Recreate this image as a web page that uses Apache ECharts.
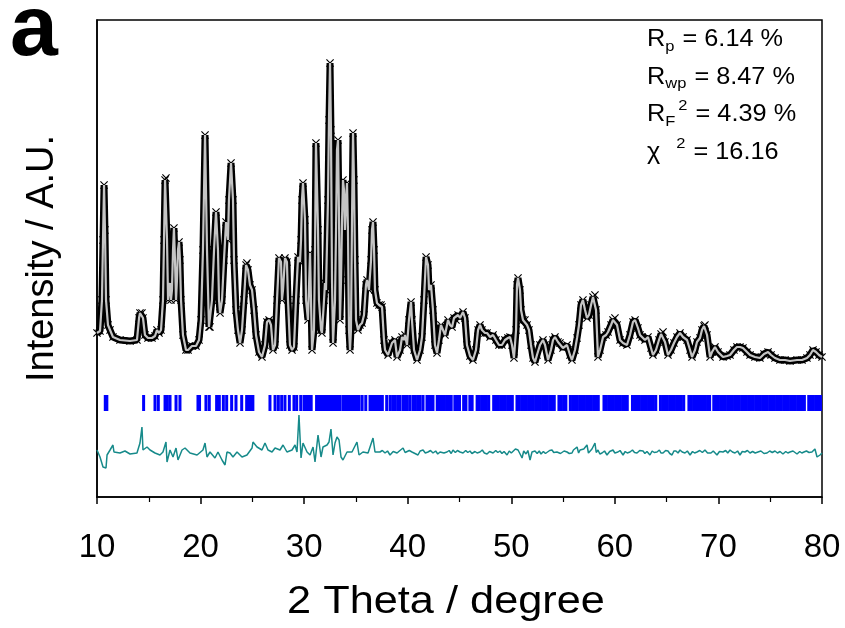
<!DOCTYPE html>
<html>
<head>
<meta charset="utf-8">
<script src="https://cdn.jsdelivr.net/npm/echarts@6/dist/echarts.min.js"></script>
<style>
  html, body { margin: 0; padding: 0; background: #fff; }
  #chart { width: 845px; height: 628px; }
</style>
</head>
<body>
<div id="chart"></div>
<script>
// Rietveld refinement plot: observed (crosses), calculated (grey line),
// Bragg reflection markers (blue) and difference curve (teal).

// [2θ (deg), intensity (counts)] – observed / calculated profile
const profile = [
  [10.00,880],[10.29,920],[10.48,1540],[10.58,2740],[10.68,3840],[10.77,2940],[10.87,1540],[11.06,1040],
  [11.26,940],[11.54,800],[12.22,740],[13.19,720],[13.86,740],[14.06,1180],[14.15,1280],[14.34,1280],
  [14.44,1180],[14.63,840],[14.92,780],[15.31,780],[15.60,820],[15.79,940],[15.99,880],[16.18,940],
  [16.37,1540],[16.47,2740],[16.57,3940],[16.66,3980],[16.76,2740],[16.86,1540],[16.95,1740],[17.05,1880],
  [17.14,1540],[17.24,1740],[17.34,2540],[17.43,2980],[17.53,2340],[17.63,1540],[17.72,1940],[17.82,2540],
  [17.92,2700],[18.01,2340],[18.11,1540],[18.30,840],[18.59,540],[18.79,540],[19.17,620],[19.56,620],
  [19.85,740],[20.04,1140],[20.23,2540],[20.43,4840],[20.62,2540],[20.81,1000],[20.91,1000],[21.10,1540],
  [21.30,2540],[21.49,3300],[21.68,2540],[21.78,1540],[21.88,1280],[22.07,1540],[22.26,2340],[22.46,3100],
  [22.65,2740],[22.74,3540],[22.94,4280],[23.13,3540],[23.23,2340],[23.42,1340],[23.61,940],[23.81,680],
  [24.00,940],[24.19,1540],[24.39,2240],[24.48,2280],[24.58,2140],[24.77,1840],[24.97,1740],[25.16,1340],
  [25.35,840],[25.64,500],[25.93,400],[26.22,640],[26.41,1100],[26.61,1140],[26.80,1040],[26.99,540],
  [27.19,640],[27.38,1540],[27.57,2380],[27.77,2300],[27.86,1540],[27.96,1740],[28.15,2380],[28.34,2300],
  [28.44,1540],[28.63,640],[28.83,540],[29.02,600],[29.21,1540],[29.41,2400],[29.60,2300],[29.70,2740],
  [29.79,3540],[29.89,3880],[30.08,3140],[30.18,1540],[30.37,1140],[30.57,2480],[30.66,1540],[30.76,540],
  [30.95,940],[31.05,2540],[31.14,4680],[31.34,2940],[31.43,1540],[31.63,940],[31.72,880],[31.92,1540],
  [32.01,1880],[32.11,1740],[32.30,3540],[32.40,5140],[32.50,6280],[32.59,4940],[32.69,1940],[32.79,680],
  [32.98,1540],[33.08,2940],[33.17,4540],[33.27,4740],[33.37,3140],[33.46,1140],[33.56,1940],[33.66,3140],
  [33.75,3940],[33.85,3740],[33.94,2940],[34.04,3540],[34.14,3880],[34.23,2940],[34.33,940],[34.43,540],
  [34.52,940],[34.62,3140],[34.72,4880],[34.81,3940],[34.91,2340],[35.01,1140],[35.20,940],[35.39,1040],
  [35.59,1080],[35.78,1240],[35.97,1840],[36.07,1940],[36.26,1740],[36.46,2340],[36.55,2940],[36.65,3100],
  [36.75,2540],[36.84,1740],[37.03,1480],[37.23,1440],[37.42,1440],[37.52,1400],[37.71,740],[37.81,540],
  [38.10,440],[38.48,680],[38.77,740],[38.97,400],[39.26,540],[39.45,800],[39.64,740],[39.74,840],
  [39.93,640],[40.12,1140],[40.32,1500],[40.41,1140],[40.61,540],[40.90,340],[41.19,540],[41.38,800],
  [41.57,1540],[41.77,2400],[41.96,2240],[42.06,1740],[42.25,1840],[42.44,1340],[42.63,640],[42.83,480],
  [43.02,740],[43.21,1040],[43.41,940],[43.60,840],[43.89,1140],[44.08,1040],[44.28,1000],[44.47,1180],
  [44.66,1140],[44.86,1240],[45.05,1180],[45.34,1300],[45.53,1180],[45.72,640],[46.01,420],[46.30,340],
  [46.59,540],[46.79,940],[46.98,1040],[47.17,940],[47.46,880],[47.66,880],[47.95,800],[48.24,840],
  [48.52,740],[48.81,640],[49.10,640],[49.39,740],[49.68,780],[49.88,800],[50.07,640],[50.26,380],
  [50.46,940],[50.55,1840],[50.65,1980],[50.84,1740],[50.94,1340],[51.13,1140],[51.32,1140],[51.52,1040],
  [51.71,940],[51.90,640],[52.10,380],[52.29,300],[52.48,440],[52.77,640],[53.06,740],[53.26,640],
  [53.55,340],[53.83,540],[54.03,740],[54.22,800],[54.51,700],[54.70,680],[54.99,580],[55.38,640],
  [55.67,440],[55.86,340],[56.15,540],[56.35,780],[56.54,1040],[56.73,1440],[56.92,1540],[57.12,1340],
  [57.31,1180],[57.50,1240],[57.70,1440],[57.89,1600],[58.08,1640],[58.18,1340],[58.37,400],[58.57,540],
  [58.86,800],[59.15,840],[59.34,900],[59.63,1040],[59.82,1140],[60.01,1180],[60.21,1040],[60.50,740],
  [60.79,680],[61.17,640],[61.46,840],[61.75,1100],[61.95,1140],[62.23,980],[62.43,840],[62.62,800],
  [62.91,740],[63.20,800],[63.49,580],[63.68,440],[63.97,540],[64.26,740],[64.46,860],[64.65,900],
  [64.84,700],[65.13,440],[65.42,540],[65.71,680],[66.00,800],[66.29,880],[66.58,800],[66.97,740],
  [67.26,540],[67.45,400],[67.74,540],[67.93,700],[68.22,780],[68.41,940],[68.61,1020],[68.70,1040],
  [68.90,840],[69.19,400],[69.38,500],[69.67,600],[69.96,500],[70.44,400],[70.83,420],[71.12,440],
  [71.50,540],[71.79,600],[72.08,600],[72.37,580],[72.76,500],[73.05,440],[73.53,400],[74.01,380],
  [74.40,460],[74.79,500],[75.08,440],[75.46,380],[75.94,340],[76.43,340],[76.91,320],[77.59,340],
  [78.07,340],[78.55,380],[78.84,440],[79.13,540],[79.42,500],[79.71,440],[80.00,400]
];

// Bragg reflection positions, 2θ (deg)
const reflections = [
  10.80,10.95,14.50,15.60,15.92,16.57,16.79,17.05,17.63,18.01,19.75,19.90,20.52,20.84,21.55,21.81,
  22.20,22.52,23.00,23.42,23.97,24.45,24.60,24.75,24.90,25.05,
  26.70,27.19,27.51,27.83,28.15,28.57,29.02,29.28,29.67,29.99,30.15,30.32,30.50,30.68,
  31.20,31.36,31.52,31.68,31.85,32.02,32.20,32.38,32.55,32.72,32.90,33.08,33.30,33.46,
  33.75,33.92,34.10,34.28,34.45,34.62,34.80,34.97,35.10,35.30,35.60,35.95,
  36.36,36.55,36.75,36.95,37.15,37.35,37.55,37.97,38.30,38.55,38.80,39.05,39.25,
  39.55,39.75,39.95,40.20,40.50,40.70,40.95,41.20,41.48,41.86,42.05,42.25,42.44,
  42.85,43.07,43.30,43.52,43.75,43.97,44.20,44.55,44.77,45.00,45.40,45.62,46.00,46.22,
  46.70,46.92,47.15,47.37,47.60,47.82,48.30,48.52,48.75,48.97,49.20,49.42,49.65,49.87,50.10,
  50.55,50.77,51.00,51.22,51.45,51.67,51.90,52.12,52.35,52.57,52.80,53.02,53.25,53.47,53.70,53.92,54.15,
  54.60,54.82,55.05,55.27,55.70,55.92,56.15,56.37,56.60,56.82,57.05,57.27,57.50,57.72,57.95,58.17,58.40,
  58.95,59.17,59.40,59.62,59.85,60.07,60.30,60.52,60.75,60.97,61.20,
  61.70,61.92,62.15,62.37,62.60,62.82,63.05,63.27,63.50,63.72,63.95,
  64.40,64.62,64.85,65.07,65.30,65.52,65.75,65.97,66.20,66.42,66.65,
  67.15,67.37,67.60,67.82,68.05,68.27,68.50,68.72,68.95,69.15,
  69.55,69.77,70.00,70.22,70.45,70.67,70.90,71.12,71.35,71.57,71.80,72.02,72.25,72.47,72.70,72.92,
  73.15,73.37,73.60,73.82,74.05,74.27,74.50,74.72,74.95,75.17,75.40,75.62,75.85,76.07,76.30,76.52,
  76.75,76.97,77.20,77.42,77.65,77.87,78.10,78.30,78.72,78.95,79.17,79.40,79.62,79.85
];

// [2θ (deg), observed − calculated (counts)]
const difference = [
  [10.00,40],[10.29,-100],[10.58,-300],[10.87,-320],[10.97,-60],[11.26,40],[11.54,140],[11.64,0],
  [12.22,-20],[12.70,20],[13.19,-40],[13.86,-20],[14.15,180],[14.34,500],[14.44,40],[14.83,100],
  [15.12,40],[15.60,-20],[16.08,-60],[16.37,0],[16.66,200],[16.76,-200],[17.05,40],[17.34,-100],
  [17.63,80],[17.82,-160],[18.21,40],[18.50,80],[18.98,-20],[19.66,-60],[20.23,40],[20.43,180],
  [20.62,-100],[20.91,0],[21.39,-120],[21.68,0],[22.07,-160],[22.36,-260],[22.55,0],[22.84,-20],
  [23.13,-100],[23.52,0],[24.00,-100],[24.48,-60],[24.97,80],[25.06,200],[25.45,100],[25.93,40],
  [26.22,180],[26.51,40],[26.90,0],[27.19,80],[27.67,40],[27.96,140],[28.34,0],[28.83,40],
  [29.12,140],[29.31,0],[29.50,740],[29.70,-120],[29.89,180],[30.28,0],[30.57,-60],[30.86,100],
  [31.05,-200],[31.34,340],[31.63,-100],[31.82,100],[32.21,140],[32.40,200],[32.59,460],[32.79,-60],
  [32.98,180],[33.17,300],[33.37,240],[33.56,-100],[33.75,-160],[34.14,0],[34.62,0],[35.10,200],
  [35.30,-60],[35.68,0],[36.17,-20],[36.65,280],[36.84,0],[37.32,0],[37.55,30],[37.81,-20],
  [38.05,20],[38.29,-60],[38.60,10],[38.97,-20],[39.25,30],[39.55,80],[39.75,-10],[39.93,-20],
  [40.15,30],[40.41,0],[40.70,-30],[40.99,-60],[41.20,20],[41.48,40],[41.70,-20],[41.96,0],
  [42.20,30],[42.44,-20],[42.70,20],[42.90,-40],[43.12,0],[43.30,40],[43.50,-20],[43.79,0],
  [44.00,30],[44.20,-30],[44.37,40],[44.60,-10],[44.80,30],[45.05,0],[45.20,-40],[45.34,-20],
  [45.60,30],[45.80,-10],[46.01,20],[46.20,-30],[46.50,10],[46.70,-20],[46.98,0],[47.20,40],
  [47.40,-20],[47.66,-40],[47.90,10],[48.05,-30],[48.24,-20],[48.50,30],[48.70,-10],[48.91,20],
  [49.10,-30],[49.30,10],[49.59,-60],[49.80,20],[50.00,-20],[50.17,0],[50.40,60],[50.65,40],
  [50.85,-40],[51.04,-120],[51.20,20],[51.42,-40],[51.60,30],[51.81,-160],[52.00,0],[52.29,20],
  [52.50,-30],[52.70,20],[52.87,-40],[53.10,10],[53.30,-30],[53.45,-20],[53.70,30],[53.93,40],
  [54.10,-10],[54.41,0],[54.60,30],[54.75,-30],[54.90,-40],[55.10,20],[55.38,0],[55.60,-30],
  [55.86,-20],[56.00,40],[56.15,20],[56.35,100],[56.50,-20],[56.64,40],[56.83,0],[57.00,60],
  [57.12,80],[57.31,140],[57.45,-20],[57.60,0],[57.79,60],[57.95,20],[58.08,180],[58.20,-10],
  [58.37,40],[58.55,-40],[58.76,-20],[59.00,20],[59.24,-60],[59.50,10],[59.82,40],[60.00,-20],
  [60.30,0],[60.50,30],[60.79,-60],[61.00,10],[61.20,-20],[61.46,0],[61.70,40],[61.90,-10],
  [62.14,-20],[62.40,30],[62.72,20],[62.90,-30],[63.10,10],[63.39,-60],[63.60,20],[63.80,-10],
  [64.07,0],[64.30,40],[64.45,-20],[64.65,-20],[64.90,30],[65.13,20],[65.30,-30],[65.52,-60],
  [65.70,20],[65.90,20],[66.10,-20],[66.29,40],[66.50,0],[66.77,-20],[67.00,20],[67.26,-60],
  [67.50,10],[67.70,-20],[67.93,0],[68.20,30],[68.45,-10],[68.70,40],[68.95,-20],[69.28,-20],
  [69.50,20],[69.86,-60],[70.10,10],[70.44,0],[70.70,30],[70.90,-20],[71.12,40],[71.35,0],
  [71.60,-20],[71.85,20],[72.08,-60],[72.30,10],[72.56,0],[72.80,30],[73.05,-20],[73.30,10],
  [73.55,-20],[73.82,0],[74.10,20],[74.40,-30],[74.69,-20],[74.95,20],[75.20,-10],[75.46,20],
  [75.70,-20],[75.95,10],[76.23,-40],[76.50,10],[76.70,-20],[76.91,0],[77.20,20],[77.59,-40],
  [77.85,10],[78.05,-20],[78.26,0],[78.50,20],[78.75,-10],[79.03,0],[79.32,60],[79.52,-100],
  [79.81,-60],[80.00,-20]
];

const xTicks = [10, 20, 30, 40, 50, 60, 70, 80];

// refinement agreement factors
const statSymbols = ['R', 'R', 'R', 'χ'];
const statSubs    = ['p', 'wp', 'F', ''];
const statSups    = ['', '', '2', '2'];
const statValues  = ['6.14 %', '8.47 %', '4.39 %', '16.16'];

// vertical placement of the auxiliary traces (counts)
const DIFF_BASE = -1500;
const TICK_TOP = -360;
const TICK_BOTTOM = -680;

const FONT = '"Liberation Sans", Arial, sans-serif';
const chart = echarts.init(document.getElementById('chart'), null, { renderer: 'canvas' });

const cross = 'path://M1,0L5,4L9,0L10,1L6,5L10,9L9,10L5,6L1,10L0,9L4,5L0,1Z';

// text metrics helper for the agreement-factor block
const measureCtx = document.createElement('canvas').getContext('2d');
function textWidth(str, size) {
  measureCtx.font = size + 'px ' + FONT;
  return measureCtx.measureText(str).width;
}

const statGraphics = [];
const STAT_X = 647, STAT_TOP = 28, STAT_STEP = 37.7, STAT_SIZE = 23, STAT_SMALL = 15, STAT_SX = 1.1;
statSymbols.forEach((sym, i) => {
  const top = STAT_TOP + i * STAT_STEP;
  const symW = textWidth(sym, STAT_SIZE) * STAT_SX;
  const subX = STAT_X + symW;
  const subW = statSubs[i] ? textWidth(statSubs[i], STAT_SMALL) * STAT_SX : 13;
  const supX = subX + subW + 3;
  const supW = statSups[i] ? textWidth(statSups[i], STAT_SMALL) * STAT_SX + 3 : 0;
  const valX = supX + supW - 2;
  const base = { scaleX: STAT_SX };
  statGraphics.push(Object.assign({ type: 'text', x: STAT_X, y: top, style: { text: sym, font: STAT_SIZE + 'px ' + FONT, fill: '#000', verticalAlign: 'top' } }, base));
  if (statSubs[i]) statGraphics.push(Object.assign({ type: 'text', x: subX, y: top + 11, style: { text: statSubs[i], font: STAT_SMALL + 'px ' + FONT, fill: '#000', verticalAlign: 'top' } }, base));
  if (statSups[i]) statGraphics.push(Object.assign({ type: 'text', x: supX, y: top - 5, style: { text: statSups[i], font: STAT_SMALL + 'px ' + FONT, fill: '#000', verticalAlign: 'top' } }, base));
  statGraphics.push(Object.assign({ type: 'text', x: valX, y: top, style: { text: ' = ' + statValues[i], font: STAT_SIZE + 'px ' + FONT, fill: '#000', verticalAlign: 'top' } }, base));
});

chart.setOption({
  animation: false,
  backgroundColor: '#fff',
  grid: { left: 97, right: 23, top: 20, bottom: 131, show: true, borderColor: '#000', borderWidth: 1.5, backgroundColor: 'transparent' },
  xAxis: {
    type: 'value', min: 10, max: 80, interval: 10,
    axisLine: { show: true, onZero: false, lineStyle: { color: '#000', width: 1.5 } },
    axisTick: { show: true, inside: false, length: 7, lineStyle: { color: '#000', width: 1.5 } },
    minorTick: { show: true, splitNumber: 2, length: 5, lineStyle: { color: '#000', width: 1.2 } },
    axisLabel: { color: '#000', fontSize: 33, fontFamily: FONT, margin: 34,
                 formatter: v => xTicks.includes(v) ? String(v) : '' },
    splitLine: { show: false },
    name: '', nameLocation: 'middle'
  },
  yAxis: {
    type: 'value', min: -2400, max: 7140,
    axisLine: { show: true, lineStyle: { color: '#000', width: 1.5 } },
    axisTick: { show: false }, axisLabel: { show: false }, splitLine: { show: false },
    name: 'Intensity / A.U.', nameLocation: 'middle', nameGap: 35, nameRotate: 90,
    nameTextStyle: { color: '#000', fontSize: 38, fontFamily: FONT }
  },
  series: [
    {
      name: 'observed', type: 'line', data: profile,
      lineStyle: { color: '#000', width: 7 },
      symbol: cross, symbolSize: 8, showAllSymbol: true, showSymbol: true,
      itemStyle: { color: '#000' }, z: 2, silent: true
    },
    {
      name: 'calculated', type: 'line', data: profile,
      lineStyle: { color: '#c4c4c4', width: 2.2 }, showSymbol: false, z: 3, silent: true
    },
    {
      name: 'reflections', type: 'custom', clip: true, z: 2, silent: true,
      data: reflections.map(v => [v]),
      encode: { x: 0 },
      renderItem: (params, api) => {
        const top = api.coord([api.value(0), TICK_TOP]);
        const bottom = api.coord([api.value(0), TICK_BOTTOM]);
        return { type: 'rect', shape: { x: top[0] - 1.5, y: top[1], width: 3, height: bottom[1] - top[1] },
                 style: { fill: '#0000ff' } };
      }
    },
    {
      name: 'difference', type: 'line', data: difference.map(p => [p[0], DIFF_BASE + p[1]]),
      lineStyle: { color: '#168a8a', width: 1.5 }, showSymbol: false, z: 2, silent: true
    }
  ],
  graphic: [
    { type: 'text', x: 10, y: -12, style: { text: 'a', font: 'bold 86px ' + FONT, fill: '#000', verticalAlign: 'top' } },
    // x-axis title, slightly widened
    { type: 'text', x: 446, y: 603, scaleX: 1.14,
      style: { text: '2 Theta / degree', font: '38px ' + FONT, fill: '#000', align: 'center', verticalAlign: 'middle' } }
  ].concat(statGraphics)
});
</script>
</body>
</html>
